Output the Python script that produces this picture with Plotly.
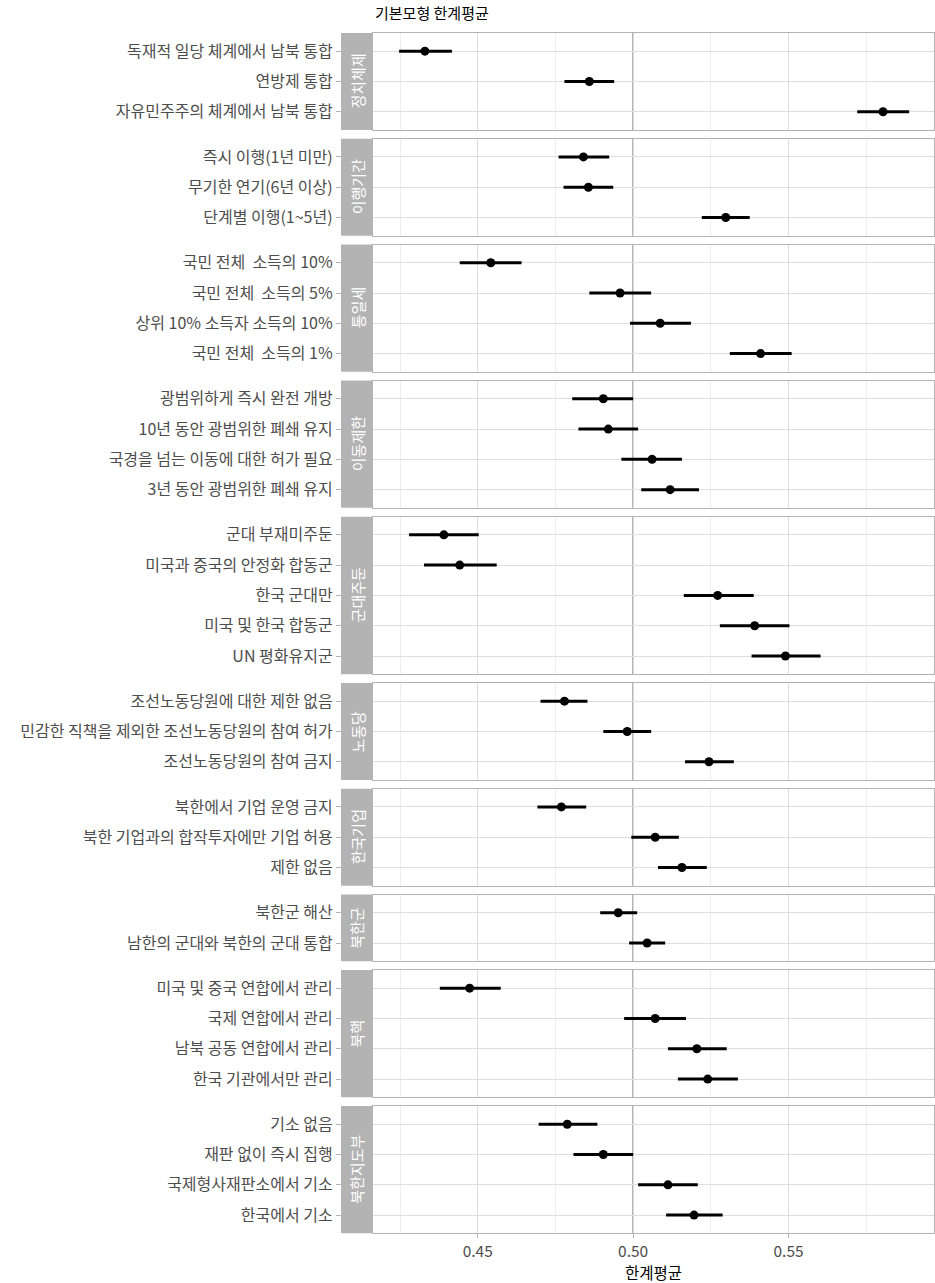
import plotly.graph_objects as go

facets = ["정치체제", "이행기간", "통일세", "이동제한", "군대주둔",
          "노동당", "한국기업", "북한군", "북핵", "북한지도부"]

labels = [
    ["독재적 일당 체계에서 남북 통합", "연방제 통합", "자유민주주의 체계에서 남북 통합"],
    ["즉시 이행(1년 미만)", "무기한 연기(6년 이상)", "단계별 이행(1~5년)"],
    ["국민 전체  소득의 10%", "국민 전체  소득의 5%", "상위 10% 소득자 소득의 10%", "국민 전체  소득의 1%"],
    ["광범위하게 즉시 완전 개방", "10년 동안 광범위한 폐쇄 유지", "국경을 넘는 이동에 대한 허가 필요", "3년 동안 광범위한 폐쇄 유지"],
    ["군대 부재미주둔", "미국과 중국의 안정화 합동군", "한국 군대만", "미국 및 한국 합동군", "UN 평화유지군"],
    ["조선노동당원에 대한 제한 없음", "민감한 직책을 제외한 조선노동당원의 참여 허가", "조선노동당원의 참여 금지"],
    ["북한에서 기업 운영 금지", "북한 기업과의 합작투자에만 기업 허용", "제한 없음"],
    ["북한군 해산", "남한의 군대와 북한의 군대 통합"],
    ["미국 및 중국 연합에서 관리", "국제 연합에서 관리", "남북 공동 연합에서 관리", "한국 기관에서만 관리"],
    ["기소 없음", "재판 없이 즉시 집행", "국제형사재판소에서 기소", "한국에서 기소"],
]

estimate = [
    [0.433, 0.4859, 0.5804],
    [0.484, 0.4856, 0.5298],
    [0.4542, 0.4958, 0.5087, 0.541],
    [0.4904, 0.492, 0.5061, 0.5119],
    [0.4391, 0.4442, 0.5272, 0.5391, 0.549],
    [0.4779, 0.4981, 0.5244],
    [0.4769, 0.5071, 0.5157],
    [0.4952, 0.5045],
    [0.4474, 0.5071, 0.5205, 0.524],
    [0.4788, 0.4904, 0.5112, 0.5196],
]

lower = [
    [0.4247, 0.4779, 0.5721],
    [0.476, 0.4776, 0.5221],
    [0.4442, 0.4859, 0.499, 0.5311],
    [0.4804, 0.4824, 0.4962, 0.5026],
    [0.4279, 0.4327, 0.5163, 0.5279, 0.5381],
    [0.4702, 0.4904, 0.5167],
    [0.4692, 0.4994, 0.508],
    [0.4894, 0.4987],
    [0.4378, 0.4971, 0.5112, 0.5144],
    [0.4696, 0.4808, 0.5016, 0.5106],
]

upper = [
    [0.4417, 0.4939, 0.5888],
    [0.4923, 0.4936, 0.5375],
    [0.4641, 0.5058, 0.5186, 0.551],
    [0.5, 0.5016, 0.5157, 0.5212],
    [0.4503, 0.4561, 0.5388, 0.5503, 0.5603],
    [0.4853, 0.5058, 0.5324],
    [0.4849, 0.5147, 0.5237],
    [0.5013, 0.5103],
    [0.4574, 0.517, 0.5301, 0.5337],
    [0.4885, 0.5, 0.5208, 0.5288],
]

x_ticks = [0.45, 0.50, 0.55]
x_tick_text = ["0.45", "0.50", "0.55"]
x_minor = [0.425, 0.475, 0.525, 0.575]

W, H = 935, 1283
TOP, UNIT, GAP = 33, 30.3, 8.8
PX_L, PX_R = 373, 934
STRIP_L = 341
FONT = "Noto Sans CJK KR"
GRID = "#dedede"
BORDER = "#b3b3b3"

fig = go.Figure()
layout = dict(
    width=W, height=H,
    margin=dict(l=0, r=0, t=0, b=0),
    paper_bgcolor="white", plot_bgcolor="white",
    showlegend=False,
    font=dict(family=FONT, size=16, color="#4d4d4d"),
)
shapes, annotations = [], []

y_cursor = TOP
n_panels = len(facets)
for k in range(n_panels):
    n = len(labels[k])
    h = (n + 0.2) * UNIT
    top_px, bot_px = y_cursor, y_cursor + h
    y_cursor = bot_px + GAP
    idx = "" if k == 0 else str(k + 1)
    xa, ya = "x" + idx, "y" + idx
    pos = [n - 1 - i for i in range(n)]
    est = estimate[k]
    fig.add_trace(go.Scatter(
        x=est, y=pos, mode="markers", xaxis=xa, yaxis=ya,
        marker=dict(color="black", size=9),
        error_x=dict(type="data", symmetric=False,
                     array=[u - e for u, e in zip(upper[k], est)],
                     arrayminus=[e - l for e, l in zip(est, lower[k])],
                     color="black", thickness=3, width=0),
        hoverinfo="skip",
    ))
    is_bottom = (k == n_panels - 1)
    layout["xaxis" + idx] = dict(
        domain=[PX_L / W, PX_R / W],
        anchor=ya,
        range=[0.4163, 0.5968],
        tickmode="array", tickvals=x_ticks, ticktext=x_tick_text,
        showticklabels=is_bottom,
        ticks="outside" if is_bottom else "",
        ticklen=4, tickcolor=BORDER, tickwidth=1,
        showgrid=True, gridcolor=GRID, gridwidth=1,
        minor=dict(tickvals=x_minor, showgrid=True, gridcolor="#eeeeee", gridwidth=0.6, ticks=""),
        showline=True, mirror=True, linecolor=BORDER, linewidth=1.3,
        zeroline=False,
        tickfont=dict(size=15.5, color="#4d4d4d", family=FONT),
        **({} if k == 0 else {"matches": "x"}),
    )
    layout["yaxis" + idx] = dict(
        domain=[1 - bot_px / H, 1 - top_px / H],
        anchor=xa,
        range=[-0.6, n - 1 + 0.6],
        tickmode="array", tickvals=pos, ticktext=labels[k],
        ticks="outside", ticklen=PX_L - 337, tickcolor=BORDER, tickwidth=1,
        showgrid=True, gridcolor=GRID, gridwidth=1,
        showline=True, mirror=True, linecolor=BORDER, linewidth=1.3,
        zeroline=False,
        tickfont=dict(size=16, color="#4d4d4d", family=FONT),
    )
    # reference line at 0.5
    shapes.append(dict(type="line", xref=xa, yref=ya + " domain",
                       x0=0.5, x1=0.5, y0=0, y1=1,
                       line=dict(color="#8c8c8c", width=1.6), layer="below"))
    # strip
    shapes.append(dict(type="rect", xref="paper", yref=ya + " domain",
                       x0=STRIP_L / W, x1=(PX_L - 0.5) / W, y0=0, y1=1,
                       fillcolor=BORDER, line=dict(width=0), layer="above"))
    annotations.append(dict(text=facets[k], xref="paper", yref=ya + " domain",
                            x=(STRIP_L + PX_L) / 2 / W, y=0.5, showarrow=False,
                            textangle=-90, xanchor="center", yanchor="middle",
                            font=dict(color="white", size=15, family=FONT)))

# title and x-axis title
annotations.append(dict(text="기본모형 한계평균", xref="paper", yref="paper",
                        x=PX_L / W, y=1 - 12 / H, xanchor="left", yanchor="middle",
                        showarrow=False, font=dict(color="black", size=15, family=FONT)))
annotations.append(dict(text="한계평균", xref="paper", yref="paper",
                        x=(PX_L + PX_R) / 2 / W, y=1 - 1272 / H, xanchor="center", yanchor="middle",
                        showarrow=False, font=dict(color="black", size=15.5, family=FONT)))

layout["shapes"] = shapes
layout["annotations"] = annotations
fig.update_layout(**layout)
fig.write_html("out.html", config={"displayModeBar": False},
               post_script="document.body.style.margin='0px';document.body.style.padding='0px';")
